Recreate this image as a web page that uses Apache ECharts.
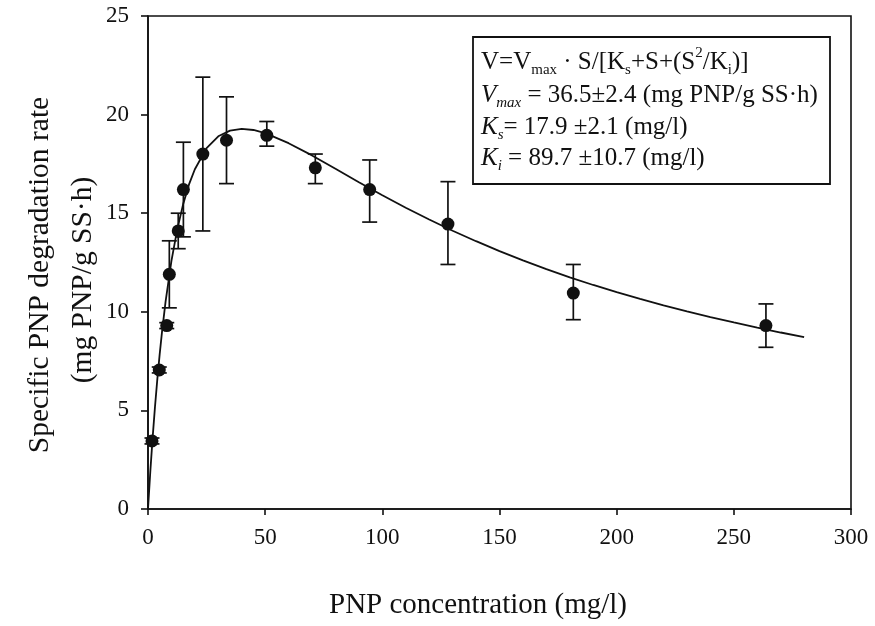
<!DOCTYPE html>
<html>
<head>
<meta charset="utf-8">
<script src="https://cdn.jsdelivr.net/npm/echarts@6/dist/echarts.min.js"></script>
<style>
html,body{margin:0;padding:0;background:#fff;}
#chart{width:875px;height:626px;}
</style>
</head>
<body>
<div id="chart"></div>
<script>
const concentration = [1.7, 4.8, 8.0, 9.1, 12.9, 15.1, 23.4, 33.5, 50.7, 71.4, 94.6, 128, 181.5, 263.7];
const rate          = [3.45, 7.05, 9.3, 11.9, 14.1, 16.2, 18.0, 18.7, 18.95, 17.3, 16.2, 14.45, 10.95, 9.3];
const errLow        = [3.3, 6.9, 9.15, 10.2, 13.2, 13.8, 14.1, 16.5, 18.4, 16.5, 14.55, 12.4, 9.6, 8.2];
const errHigh       = [3.6, 7.2, 9.45, 13.6, 15.0, 18.6, 21.9, 20.9, 19.65, 18.0, 17.7, 16.6, 12.4, 10.4];

// Fitted curve
const fitX = [0, 1, 2, 3, 4, 5, 6, 7.5, 10, 12.5, 15, 17.5, 20, 25, 30, 35, 40, 45, 50, 60, 70, 80, 90, 100, 110, 120, 130, 140, 150, 160, 170, 180, 190, 200, 210, 220, 230, 240, 250, 260, 270, 280];
const fitY = [0, 1.93, 3.66, 5.21, 6.61, 7.87, 9.01, 10.52, 12.58, 14.19, 15.46, 16.46, 17.23, 18.3, 18.9, 19.19, 19.28, 19.22, 19.06, 18.55, 17.93, 17.25, 16.57, 15.91, 15.28, 14.68, 14.11, 13.58, 13.08, 12.61, 12.16, 11.75, 11.36, 11.0, 10.65, 10.33, 10.02, 9.73, 9.46, 9.2, 8.95, 8.72];

// Axis ticks
const xTickMin = 0, xTickMax = 300, xTickStep = 50;
const yTickMin = 0, yTickMax = 25, yTickStep = 5;

const FONT = '"Liberation Serif", "Times New Roman", serif';
const INK = '#111';

const chart = echarts.init(document.getElementById('chart'), null, {renderer: 'canvas'});

const errorData = concentration.map((x, i) => [x, errLow[i], errHigh[i]]);
const pointData = concentration.map((x, i) => [x, rate[i]]);
const fitData = fitX.map((x, i) => [x, fitY[i]]);

const richBase = {
  n:   {fontFamily: FONT, fontSize: 25, lineHeight: 32, color: INK},
  i:   {fontFamily: FONT, fontSize: 25, lineHeight: 32, color: INK, fontStyle: 'italic'},
  sub: {fontFamily: FONT, fontSize: 15, lineHeight: 20, color: INK, verticalAlign: 'bottom'},
  isub:{fontFamily: FONT, fontSize: 15, lineHeight: 20, color: INK, verticalAlign: 'bottom', fontStyle: 'italic'},
  sup: {fontFamily: FONT, fontSize: 15, lineHeight: 18, color: INK, verticalAlign: 'top'}
};

function boxLine(text, y) {
  return {
    type: 'text', left: 481, top: y - 16, z: 100,
    style: {text: text, rich: richBase, fontFamily: FONT, fontSize: 25, lineHeight: 32, fill: INK}
  };
}

const option = {
  backgroundColor: '#fff',
  animation: false,
  grid: {left: 148, right: 24, top: 16, bottom: 117, show: true, borderColor: INK, borderWidth: 1.6, backgroundColor: 'transparent'},
  xAxis: {
    type: 'value', min: xTickMin, max: xTickMax, interval: xTickStep,
    axisLine: {show: true, lineStyle: {color: INK, width: 1.6}},
    axisTick: {show: true, inside: false, length: 6, lineStyle: {color: INK, width: 1.6}},
    axisLabel: {color: INK, fontFamily: FONT, fontSize: 23, margin: 17},
    splitLine: {show: false}
  },
  yAxis: {
    type: 'value', min: yTickMin, max: yTickMax, interval: yTickStep,
    axisLine: {show: true, lineStyle: {color: INK, width: 1.6}},
    axisTick: {show: true, inside: false, length: 7, lineStyle: {color: INK, width: 1.6}},
    axisLabel: {color: INK, fontFamily: FONT, fontSize: 23, margin: 19},
    splitLine: {show: false}
  },
  series: [
    {
      type: 'line', data: fitData, smooth: false, showSymbol: false, symbol: 'none',
      lineStyle: {color: INK, width: 1.8}, z: 2
    },
    {
      type: 'custom', data: errorData, encode: {x: 0, y: [1, 2]}, z: 3,
      renderItem: function (params, api) {
        const x = api.value(0), lo = api.value(1), hi = api.value(2);
        const pHi = api.coord([x, hi]);
        const pLo = api.coord([x, lo]);
        const w = 7.5;
        const st = {stroke: INK, lineWidth: 1.7};
        return {
          type: 'group',
          children: [
            {type: 'line', shape: {x1: pHi[0], y1: pHi[1], x2: pLo[0], y2: pLo[1]}, style: st},
            {type: 'line', shape: {x1: pHi[0] - w, y1: pHi[1], x2: pHi[0] + w, y2: pHi[1]}, style: st},
            {type: 'line', shape: {x1: pLo[0] - w, y1: pLo[1], x2: pLo[0] + w, y2: pLo[1]}, style: st}
          ]
        };
      }
    },
    {
      type: 'scatter', data: pointData, symbol: 'circle', symbolSize: 13,
      itemStyle: {color: INK, opacity: 1}, z: 4
    }
  ],
  graphic: [
    {
      type: 'rect', z: 99,
      shape: {x: 473, y: 37, width: 357, height: 147},
      style: {fill: '#fff', stroke: INK, lineWidth: 1.8}
    },
    boxLine('{n|V=V}{sub|max}{n| · S/[K}{sub|s}{n|+S+(S}{sup|2}{n|/K}{sub|i}{n|)]}', 62),
    boxLine('{i|V}{isub|max}{n| = 36.5±2.4 (mg PNP/g SS·h)}', 95),
    boxLine('{i|K}{isub|s}{n|= 17.9 ±2.1 (mg/l)}', 127),
    boxLine('{i|K}{isub|i}{n| = 89.7 ±10.7 (mg/l)}', 158),
    {
      type: 'text', x: 478, y: 605, z: 100,
      style: {text: 'PNP concentration (mg/l)', fontFamily: FONT, fontSize: 29, fill: INK, align: 'center', verticalAlign: 'middle'}
    },
    {
      type: 'text', x: 40, y: 275, rotation: Math.PI / 2, z: 100,
      style: {text: 'Specific PNP degradation rate', fontFamily: FONT, fontSize: 29.5, fill: INK, align: 'center', verticalAlign: 'middle'}
    },
    {
      type: 'text', x: 83, y: 280, rotation: Math.PI / 2, z: 100,
      style: {text: '(mg PNP/g SS·h)', fontFamily: FONT, fontSize: 29.5, fill: INK, align: 'center', verticalAlign: 'middle'}
    }
  ]
};

chart.setOption(option);
</script>
</body>
</html>
